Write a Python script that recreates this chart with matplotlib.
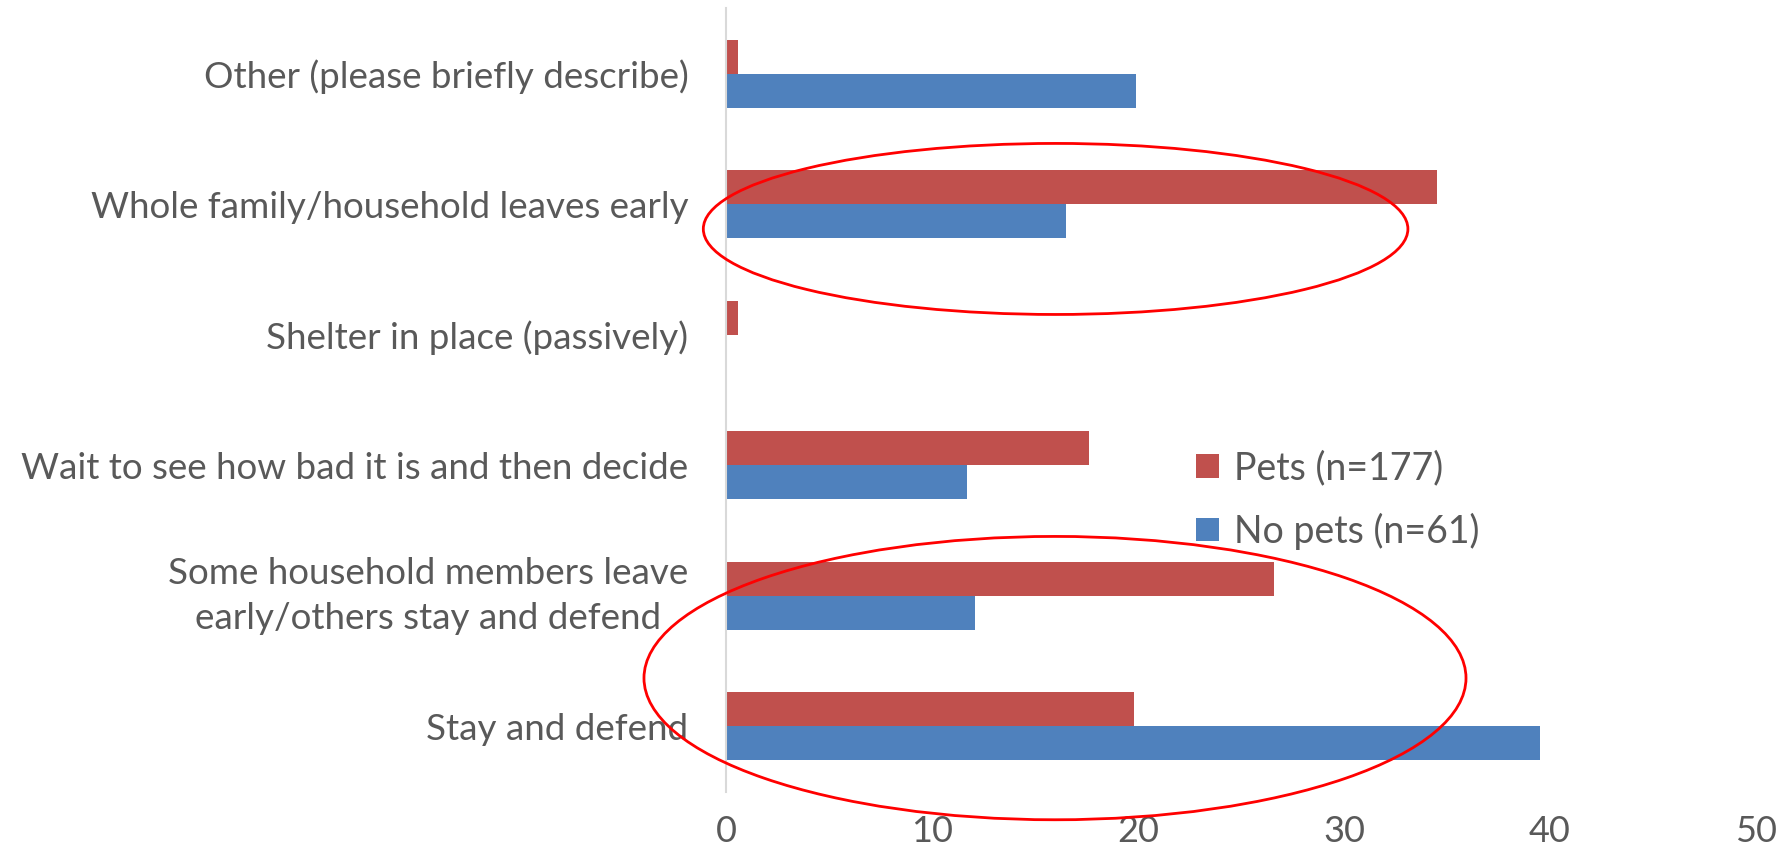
import matplotlib
matplotlib.use("Agg")
import matplotlib.pyplot as plt
from matplotlib.patches import Ellipse
import numpy as np

# Evacuation intention by pet ownership (% of respondents)
categories = [
    "Stay and defend",
    "Some household members leave\nearly/others stay and defend",
    "Wait to see how bad it is and then decide",
    "Shelter in place (passively)",
    "Whole family/household leaves early",
    "Other (please briefly describe)",
]
pets = [19.8, 26.6, 17.6, 0.6, 34.5, 0.6]
no_pets = [39.5, 12.1, 11.7, 0.0, 16.5, 19.9]
series_labels = ["Pets (n=177)", "No pets (n=61)"]
xticks = [0, 10, 20, 30, 40, 50]

RED = "#C0504D"
BLUE = "#4F81BD"
TEXT = "#595959"

plt.rcParams["font.family"] = ["Lato", "DejaVu Sans"]

fig = plt.figure(figsize=(17.89, 8.46), dpi=100)
ax = fig.add_axes([0.4058, 0.0642, 0.5758, 0.926])

y = np.arange(len(categories))
h = 0.26
ax.barh(y + h / 2, pets, height=h, color=RED, label=series_labels[0])
ax.barh(y - h / 2, no_pets, height=h, color=BLUE, label=series_labels[1])

ax.set_xlim(0, 50)
ax.set_ylim(-0.5, 5.5)
ax.set_xticks(xticks)
ax.set_yticks(y)
ax.set_yticklabels(categories)
for lab in ax.get_yticklabels():
    lab.set_fontsize(26.5)
    if "\n" in lab.get_text():
        lab.set_multialignment("center")
        lab.set_linespacing(1.45)
        lab.set_verticalalignment("center")

ax.tick_params(axis="x", length=0, labelsize=26, colors=TEXT, pad=17)
ax.tick_params(axis="y", length=0, colors=TEXT, pad=27)

for s in ["top", "right", "bottom"]:
    ax.spines[s].set_visible(False)
ax.spines["left"].set_color("#D9D9D9")
ax.spines["left"].set_linewidth(1.5)

leg = ax.legend(loc="upper left", bbox_to_anchor=(0.442, 0.455), frameon=False,
                fontsize=27, handlelength=0.6, handleheight=0.6,
                handletextpad=0.4, labelspacing=0.7, borderaxespad=0)
for t in leg.get_texts():
    t.set_color(TEXT)

# highlight rings
ax.add_patch(Ellipse((16.0, 3.81), 34.2, 1.31, fill=False, edgecolor="#FF0000",
                     linewidth=2, clip_on=False, zorder=5))
ax.add_patch(Ellipse((15.97, 0.37), 39.9, 2.17, fill=False, edgecolor="#FF0000",
                     linewidth=2, clip_on=False, zorder=5))

fig.savefig("out.png", dpi=100, facecolor="white")
